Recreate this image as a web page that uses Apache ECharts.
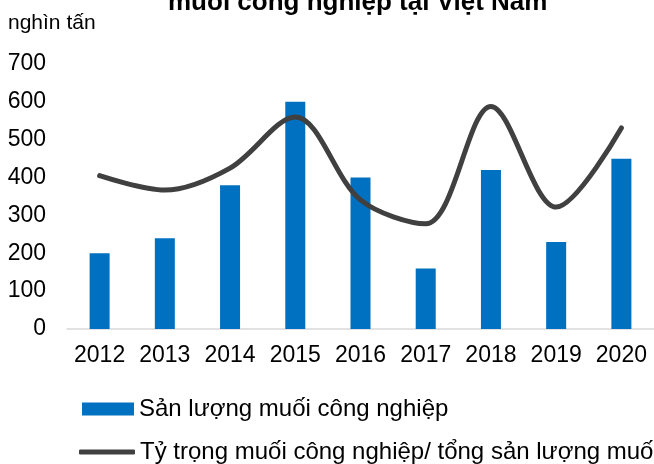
<!DOCTYPE html>
<html>
<head>
<meta charset="utf-8">
<script src="https://cdn.jsdelivr.net/npm/echarts@6/dist/echarts.min.js"></script>
<style>
  html, body { margin: 0; padding: 0; background: #fff; }
  #chart { width: 654px; height: 464px; }
</style>
</head>
<body>
<div id="chart"></div>
<script>
const years = ['2012', '2013', '2014', '2015', '2016', '2017', '2018', '2019', '2020']
const sanLuong = [200, 240, 380, 600, 400, 160, 420, 230, 450]
const tyTrong = [405, 367, 425, 560, 341, 278, 588, 322, 531]
const yTicks = [0, 700, 100]

const barName = 'Sản lượng muối công nghiệp'
const lineName = 'Tỷ trọng muối công nghiệp/ tổng sản lượng muối'
const font = 'Liberation Sans, Arial, sans-serif'

const chart = echarts.init(document.getElementById('chart'))

const legendText = { color: '#000', fontSize: 24, fontFamily: font }

const option = {
  backgroundColor: '#fff',
  animation: false,
  title: [
    {
      text: 'muối công nghiệp tại Việt Nam',
      left: 168,
      top: -10,
      padding: 0,
      textStyle: { fontFamily: font, fontSize: 26, fontWeight: 'bold', color: '#000' }
    },
    {
      text: 'nghìn tấn',
      left: 8,
      top: 13,
      padding: 0,
      textStyle: { fontFamily: font, fontSize: 21, fontWeight: 'normal', color: '#000' }
    }
  ],
  grid: {
    left: 67,
    top: 64,
    width: 589,
    height: 265,
    containLabel: false
  },
  xAxis: {
    type: 'category',
    data: years,
    axisLine: { lineStyle: { color: '#d9d9d9', width: 1.5 } },
    axisTick: { show: false },
    axisLabel: { color: '#000', fontSize: 23, fontFamily: font, margin: 15, interval: 0 }
  },
  yAxis: {
    type: 'value',
    min: yTicks[0],
    max: yTicks[1],
    interval: yTicks[2],
    axisLine: { show: false },
    axisTick: { show: false },
    splitLine: { show: false },
    axisLabel: { color: '#000', fontSize: 23, fontFamily: font, margin: 21 }
  },
  legend: [
    {
      left: 82,
      top: 397,
      padding: 0,
      itemWidth: 52,
      itemHeight: 13,
      textStyle: legendText,
      data: [{ name: barName, icon: 'rect' }]
    },
    {
      left: 79,
      top: 440,
      padding: 0,
      itemWidth: 56,
      itemHeight: 5,
      textStyle: legendText,
      data: [{ name: lineName, icon: 'roundRect', itemStyle: { color: '#404040' } }]
    }
  ],
  series: [
    {
      name: barName,
      type: 'bar',
      data: sanLuong,
      barWidth: 20,
      itemStyle: { color: '#0070c0' }
    },
    {
      name: lineName,
      type: 'line',
      data: tyTrong,
      smooth: 0.33,
      symbol: 'none',
      lineStyle: { color: '#404040', width: 5, cap: 'round' },
      itemStyle: { color: '#404040' }
    }
  ]
}

chart.setOption(option)
</script>
</body>
</html>
